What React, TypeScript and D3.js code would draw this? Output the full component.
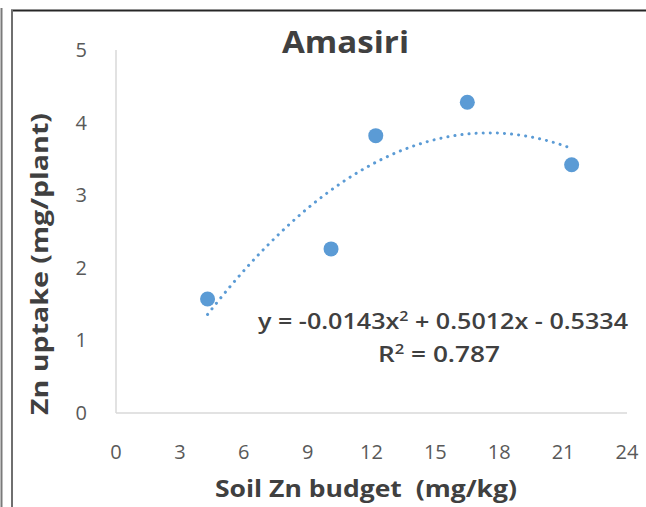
import React from "react";
import * as d3 from "d3";

// Soil Zn budget (mg/kg) vs Zn uptake (mg/plant) for Amasiri
const budget = [4.3, 10.1, 12.2, 16.5, 21.4];
const uptake = [1.57, 2.26, 3.82, 4.28, 3.42];
const xTicks = [0, 3, 6, 9, 12, 15, 18, 21, 24];
const yTicks = [0, 1, 2, 3, 4, 5];
// Polynomial trend coefficients (order 2)
const trendCoef = [-0.0143, 0.5012, -0.5334];
const rSquared = 0.787;

const W = 646;
const H = 507;
const BLUE = "#5B9BD5";
const TEXT = "#404040";
const TICK = "#595959";
const FONT = "'Open Sans', 'Liberation Sans', sans-serif";

export default function App() {
  const x = d3.scaleLinear().domain([0, 24]).range([116, 627]);
  const y = d3.scaleLinear().domain([0, 5]).range([413, 50]);

  const x0 = d3.min(budget)!;
  const x1 = d3.max(budget)!;
  const trend = (v: number) => trendCoef[0] * v * v + trendCoef[1] * v + trendCoef[2];
  const trendPts = d3.range(0, 101).map((i) => {
    const v = x0 + ((x1 - x0) * i) / 100;
    return [v, trend(v)] as [number, number];
  });
  const line = d3
    .line<[number, number]>()
    .x((d) => x(d[0]))
    .y((d) => y(d[1]))
    .curve(d3.curveBasis);

  return (
    <svg
      width={W}
      height={H}
      style={{ position: "absolute", left: 0, top: 0, background: "#fff" }}
      fontFamily={FONT}
    >
      {/* outer page edges */}
      <line x1={1.5} y1={8} x2={1.5} y2={H} stroke="#7a7a7a" strokeWidth={2} />
      <line x1={11} y1={10.5} x2={W} y2={10.5} stroke="#262626" strokeWidth={2} />
      <line x1={12} y1={10} x2={12} y2={H} stroke="#6f6f6f" strokeWidth={2} />

      {/* title */}
      <text
        x={282}
        y={53}
        fontSize={30}
        fontWeight={700}
        fill={TEXT}
        textLength={127}
        lengthAdjust="spacingAndGlyphs"
      >
        Amasiri
      </text>

      {/* axes */}
      <line x1={x(0)} y1={y(0)} x2={x(0)} y2={y(5)} stroke="#d9d9d9" strokeWidth={1.5} />
      <line x1={x(0)} y1={y(0)} x2={x(24)} y2={y(0)} stroke="#d9d9d9" strokeWidth={1.5} />

      {yTicks.map((t) => (
        <text key={"y" + t} x={87} y={y(t)} dy="0.35em" textAnchor="end" fontSize={20} fill={TICK}>
          {t}
        </text>
      ))}
      {xTicks.map((t) => (
        <text key={"x" + t} x={x(t)} y={452} dy="0.35em" textAnchor="middle" fontSize={20} fill={TICK}>
          {t}
        </text>
      ))}

      {/* axis titles */}
      <text
        transform="translate(48, 415) rotate(-90)"
        fontSize={24}
        fontWeight={700}
        fill={TEXT}
        textLength={302}
        lengthAdjust="spacingAndGlyphs"
      >
        Zn uptake (mg/plant)
      </text>
      <text
        x={215}
        y={497}
        fontSize={24}
        fontWeight={700}
        fill={TEXT}
        textLength={302}
        lengthAdjust="spacingAndGlyphs"
        xmlSpace="preserve"
      >
        Soil Zn budget  (mg/kg)
      </text>

      {/* trend line */}
      <path
        d={line(trendPts) || ""}
        fill="none"
        stroke={BLUE}
        strokeWidth={3}
        strokeDasharray="0.1 7"
        strokeLinecap="round"
      />

      {/* data points */}
      {budget.map((b, i) => (
        <circle key={i} cx={x(b)} cy={y(uptake[i])} r={7.5} fill={BLUE} />
      ))}

      {/* equation */}
      <text
        x={258}
        y={329}
        fontSize={22}
        fontWeight={600}
        fill={TEXT}
        textLength={370}
        lengthAdjust="spacingAndGlyphs"
      >
        y = {trendCoef[0].toFixed(4)}x<tspan dy={-8} fontSize={14}>2</tspan>
        <tspan dy={8}> + {trendCoef[1].toFixed(4)}x - {Math.abs(trendCoef[2]).toFixed(4)}</tspan>
      </text>
      <text
        x={378}
        y={362}
        fontSize={22}
        fontWeight={600}
        fill={TEXT}
        textLength={122}
        lengthAdjust="spacingAndGlyphs"
      >
        R<tspan dy={-8} fontSize={14}>2</tspan>
        <tspan dy={8}> = {rSquared.toFixed(3)}</tspan>
      </text>
    </svg>
  );
}
